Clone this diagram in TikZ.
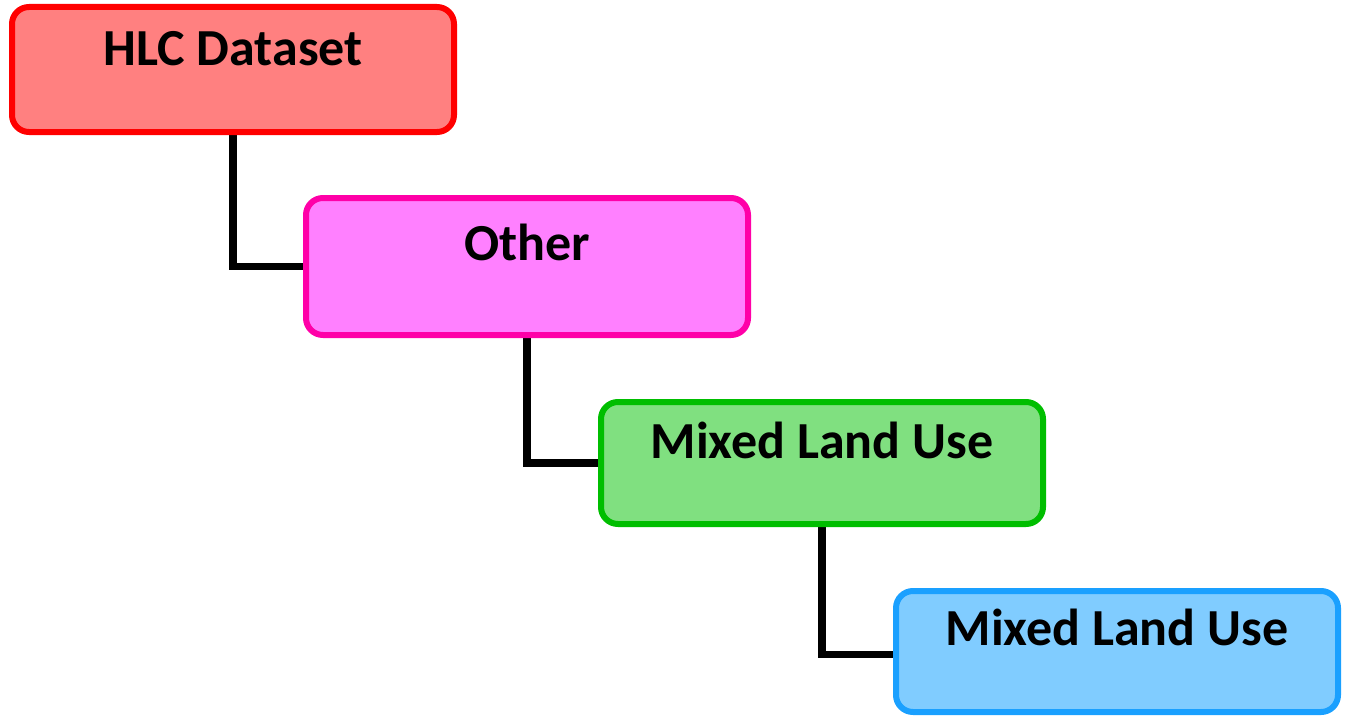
\documentclass[tikz,border=0pt]{standalone}
\usepackage{fontspec}
\setmainfont{Carlito}
\usetikzlibrary{backgrounds}
\begin{document}
\begin{tikzpicture}[x=1pt,y=-1pt,
  box/.style={draw=#1, line width=6pt, rounded corners=17pt, anchor=north west, inner sep=0pt, outer sep=0pt},
  lbl/.style={anchor=base, font=\fontsize{52}{60}\selectfont\bfseries, text=black, inner sep=0pt},
  link/.style={draw=black, line width=7.5pt}]
\definecolor{redline}{HTML}{FF0000}
\definecolor{redfill}{HTML}{FF8080}
\definecolor{pinkline}{HTML}{FF00A8}
\definecolor{pinkfill}{HTML}{FF80FF}
\definecolor{greenline}{HTML}{00BE00}
\definecolor{greenfill}{HTML}{80E080}
\definecolor{blueline}{HTML}{1AA0FF}
\definecolor{bluefill}{HTML}{80CCFF}
\useasboundingbox (0,0) rectangle (1348,717);
% hierarchy boxes
\node[box=redline, fill=redfill, minimum width=442pt, minimum height=125pt] (hlc) at (12,7) {};
\node[box=pinkline, fill=pinkfill, minimum width=442pt, minimum height=137pt] (other) at (306,198) {};
\node[box=greenline, fill=greenfill, minimum width=442pt, minimum height=122pt] (mixA) at (601,402) {};
\node[box=blueline, fill=bluefill, minimum width=442pt, minimum height=121pt] (mixB) at (896,591) {};
% titles
\node[lbl] (hlct) at (233,65) {HLC Dataset};
\node[lbl] (othert) at (527,260) {Other};
\node[lbl] (mixAt) at (822,458) {Mixed Land Use};
\node[lbl] (mixBt) at (1117,645) {Mixed Land Use};
% elbow connectors behind the boxes
\begin{pgfonlayer}{background}
\draw[link] (hlc.south) |- (other.west);
\draw[link] (other.south) |- (mixA.west);
\draw[link] (mixA.south) |- ([yshift=-3pt]mixB.west);
\end{pgfonlayer}
\end{tikzpicture}
\end{document}
